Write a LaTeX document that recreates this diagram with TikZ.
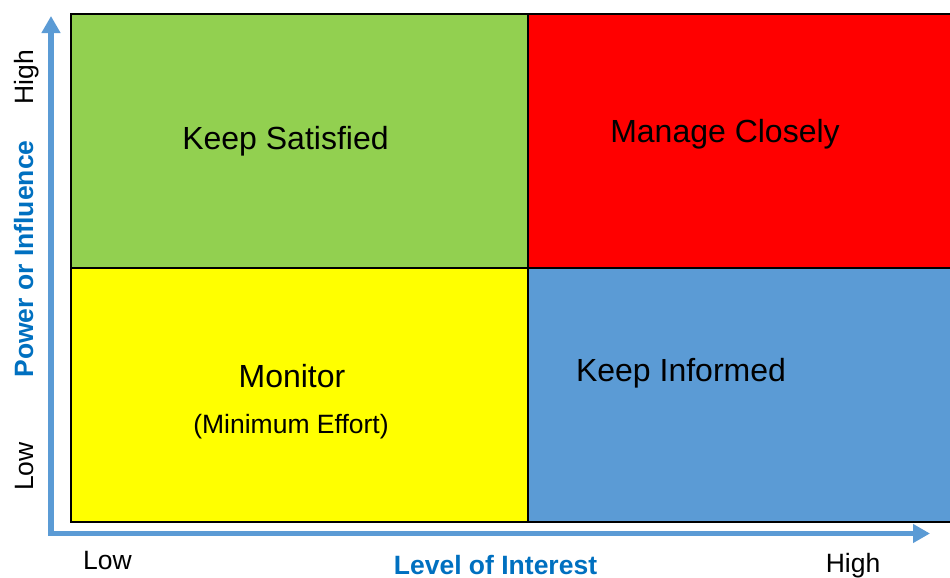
\documentclass[tikz,border=0pt]{standalone}
\usepackage{fontspec}
\setmainfont{Liberation Sans}
\usetikzlibrary{arrows.meta}
\definecolor{QuadGreen}{HTML}{92D050}
\definecolor{QuadRed}{HTML}{FF0000}
\definecolor{QuadYellow}{HTML}{FFFF00}
\definecolor{QuadBlue}{HTML}{5B9BD5}
\definecolor{AxisBlue}{HTML}{5B9BD5}
\definecolor{TitleBlue}{HTML}{0070C0}
\tikzstyle{quadrant}=[
	draw=black,
	line width=1pt
]
\tikzstyle{axisline}=[
	draw=AxisBlue,
	line width=2.75pt,
	line join=miter,
	{Triangle[width=9pt,length=8.5pt]}-{Triangle[width=9pt,length=8.5pt]}
]
\tikzstyle{quadtext}=[
	anchor=base,
	inner sep=0pt,
	font=\fontsize{16}{19}\selectfont
]
\tikzstyle{smalltext}=[
	anchor=base,
	inner sep=0pt,
	font=\fontsize{13.25}{16}\selectfont
]
\tikzstyle{axistitle}=[
	smalltext,
	text=TitleBlue,
	font=\fontsize{13.25}{16}\selectfont\bfseries
]

\begin{document}
\begin{tikzpicture}[x=0.5pt,y=-0.5pt]
\clip (0,0) rectangle (950,578);
% the four quadrants
\draw [quadrant, fill=QuadGreen] (71,14) rectangle (528,268);
\draw [quadrant, fill=QuadRed] (528,14) rectangle (960,268);
\draw [quadrant, fill=QuadYellow] (71,268) rectangle (528,522);
\draw [quadrant, fill=QuadBlue] (528,268) rectangle (960,522);
\node [quadtext] (KeepSatisfied) at (285.5,149) {Keep Satisfied};
\node [quadtext] (ManageClosely) at (725,142.5) {Manage Closely};
\node [quadtext] (Monitor) at (292,387) {Monitor};
\node [smalltext] (MinimumEffort) at (291,433) {(Minimum Effort)};
\node [quadtext] (KeepInformed) at (681,381) {Keep Informed};
% axes
\coordinate (Origin) at (51,533.5);
\coordinate (PowerEnd) at (51,16);
\coordinate (InterestEnd) at (930,533.5);
\draw [axisline] (PowerEnd) -- (Origin) -- (InterestEnd);
\node [smalltext] (InterestLow) at (107.5,569.5) {Low};
\node [smalltext] (InterestHigh) at (853,572.5) {High};
\node [axistitle] (Interest) at (495.5,574) {Level of Interest};
\node [smalltext, rotate=90] (PowerHigh) at (33,77) {High};
\node [smalltext, rotate=90] (PowerLow) at (33,466.5) {Low};
\node [axistitle, rotate=90] (Power) at (33,259) {Power or Influence};
\end{tikzpicture}
\end{document}
